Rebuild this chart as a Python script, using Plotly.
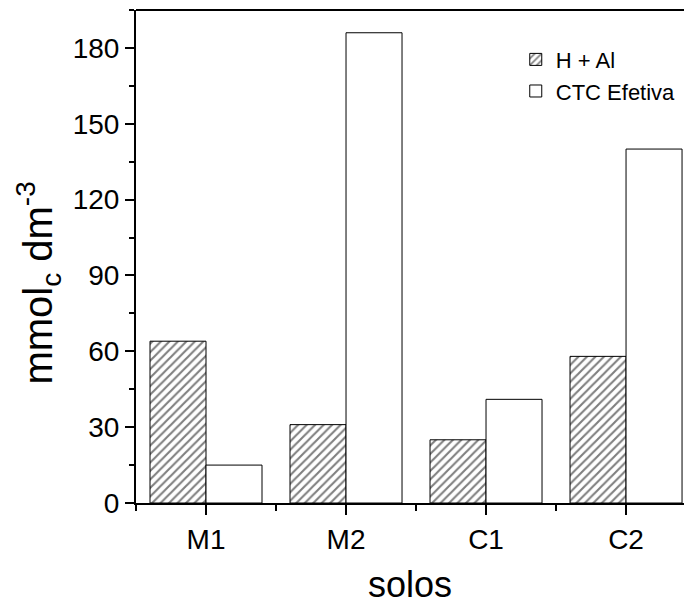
import plotly.graph_objects as go

categories = ["M1", "M2", "C1", "C2"]
x_pos = [1, 2, 3, 4]
h_al = [64, 31, 25, 58]
ctc_efetiva = [15, 186, 41, 140]
y_ticks = [0, 30, 60, 90, 120, 150, 180]

FONT = "Liberation Sans, Arial, sans-serif"

fig = go.Figure()
fig.add_trace(go.Bar(
    x=x_pos, y=h_al, name="H + Al",
    marker=dict(color="white", line=dict(color="black", width=1),
                pattern=dict(shape="/", fgcolor="black", bgcolor="white", size=6, solidity=0.35)),
))
fig.add_trace(go.Bar(
    x=x_pos, y=ctc_efetiva, name="CTC Efetiva",
    marker=dict(color="white", line=dict(color="black", width=1)),
))

fig.update_layout(
    width=684, height=605,
    margin=dict(l=136, r=0, t=10, b=102),
    paper_bgcolor="white", plot_bgcolor="white",
    barmode="group", bargap=0.2, bargroupgap=0,
    font=dict(family=FONT, color="black", size=28),
    showlegend=True,
    legend=dict(x=0.693, y=0.942, xanchor="left", yanchor="top",
                font=dict(size=22, family=FONT), bgcolor="rgba(0,0,0,0)",
                tracegroupgap=0, itemwidth=30),
    xaxis=dict(
        range=[0.5, 4.414], tickmode="array", tickvals=x_pos, ticktext=categories,
        showline=True, linecolor="black", linewidth=2,
        ticks="outside", ticklen=10, tickwidth=2, tickcolor="black",
        showgrid=False, zeroline=False,
        tickfont=dict(size=28),
        minor=dict(tickmode="linear", tick0=0.5, dtick=1, ticks="outside", ticklen=6,
                   tickwidth=2, tickcolor="black", showgrid=False),
        title=dict(text="solos", font=dict(size=36), standoff=20),
    ),
    yaxis=dict(
        range=[0, 195], tickmode="array", tickvals=y_ticks,
        showline=True, linecolor="black", linewidth=2,
        ticks="outside", ticklen=9, tickwidth=2, tickcolor="black",
        showgrid=False, zeroline=False,
        tickfont=dict(size=28),
        minor=dict(tickmode="linear", tick0=15, dtick=30, ticks="outside", ticklen=5,
                   tickwidth=2, tickcolor="black", showgrid=False),
    ),
    annotations=[dict(
        text="mmol<sub>c</sub> dm<sup>-3</sup>", textangle=-90,
        xref="paper", yref="paper", x=(38 - 136) / 548, y=0.445,
        xanchor="center", yanchor="middle", showarrow=False,
        font=dict(size=40, family=FONT, color="black"),
    )],
)
# top frame line
fig.add_shape(type="line", xref="paper", yref="paper", x0=0, x1=1, y0=1, y1=1,
              line=dict(color="black", width=2))

fig.write_html("out.html")
